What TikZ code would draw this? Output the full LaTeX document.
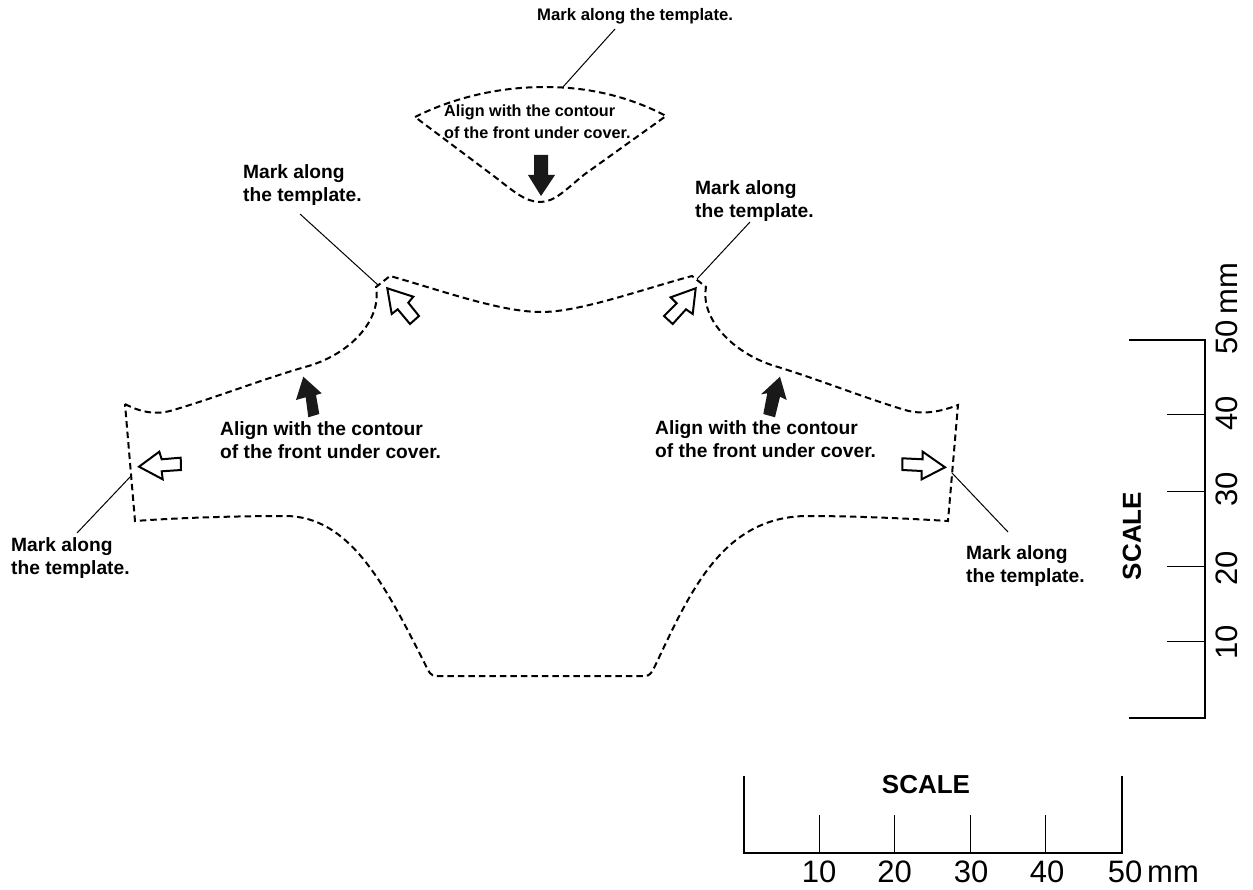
\documentclass[tikz,border=0pt]{standalone}
\usepackage{fontspec}
\setmainfont{Liberation Sans}
\begin{document}
\begin{tikzpicture}[x=1pt,y=-1pt,
  outline/.style={line width=2pt,dash pattern=on 6.5pt off 4pt,black},
  leader/.style={line width=1pt,black},
  solidarrow/.style={fill=black!90,draw=none},
  hollowarrow/.style={fill=white,draw=black,line width=2pt,line join=miter},
  notetop/.style={font=\fontsize{16.7}{23.5}\selectfont\bfseries,align=left,inner sep=0pt,anchor=north west},
  note/.style={font=\fontsize{19.2}{23.5}\selectfont\bfseries,align=left,inner sep=0pt,anchor=north west},
  notesmall/.style={font=\fontsize{16.2}{21.5}\selectfont\bfseries,align=left,inner sep=0pt,anchor=north west},
  scaletitle/.style={font=\fontsize{26}{30}\selectfont\bfseries,inner sep=0pt},
  num/.style={font=\fontsize{31}{32}\selectfont,inner sep=0pt,anchor=base},
  rule/.style={line width=2pt,black,line cap=butt},
  tick/.style={line width=1pt,black}]
\useasboundingbox (0,0) rectangle (1253,890);

% top template
\draw[outline] (415,117) .. controls (455,97) and (500,87) .. (545,87)
  .. controls (590,87) and (630,97) .. (666,116)
  -- (585,174) .. controls (565,190) and (555,202) .. (540,202)
  .. controls (525,202) and (512,190) .. (495,177) -- cycle;

% main template
\draw[outline] (125,404) .. controls (140,412) and (155,415) .. (170,411)
  .. controls (215,398) and (260,380) .. (305,367)
  .. controls (350,355) and (382,320) .. (376,287)
  -- (390,276)
  .. controls (440,290) and (500,312) .. (541,312)
  .. controls (580,312) and (640,290) .. (692,276)
  -- (706,287)
  .. controls (700,320) and (735,355) .. (778,367)
  .. controls (820,380) and (865,398) .. (905,410)
  .. controls (925,416) and (945,410) .. (958,405)
  -- (948,521)
  .. controls (900,518) and (850,516) .. (805,516)
  .. controls (722,518) and (690,592) .. (655,666)
  .. controls (652,672) and (650,676) .. (645,676)
  -- (437,676)
  .. controls (430,676) and (429,672) .. (425,664)
  .. controls (385,585) and (350,516) .. (285,516)
  .. controls (250,516) and (190,517) .. (135,521)
  -- cycle;

% solid arrows
\fill[solidarrow] (541,196) -- (528,175) -- (534,175) -- (534,155) -- (548,155) -- (548,175) -- (555,175) -- cycle;
\fill[solidarrow] (303.3,376.7) -- (296,400) -- (305.7,397.3) -- (308.3,417.3) -- (319.3,414) -- (316,395) -- (321.7,393.3) -- cycle;
\fill[solidarrow] (780,376.7) -- (761,394.3) -- (767.3,393.3) -- (763.3,414) -- (775,417.3) -- (780,396.7) -- (786.7,400) -- cycle;

% hollow arrows
\draw[hollowarrow] (387.3,288.3) -- (413.3,296.7) -- (408.3,302.7) -- (419,316) -- (410,324) -- (397.7,309.3) -- (391.7,314) -- cycle;
\draw[hollowarrow] (695.7,288.3) -- (670.7,297.3) -- (676.7,303.3) -- (664,316) -- (672.7,324) -- (686,309.3) -- (692.7,314) -- cycle;
\draw[hollowarrow] (139,466.7) -- (159.3,451.7) -- (161.7,459.3) -- (180.7,457.7) -- (181,470) -- (161.7,471.3) -- (162.7,479.3) -- cycle;
\draw[hollowarrow] (945,467.3) -- (922.7,451.7) -- (922.7,459.3) -- (902.3,458.3) -- (902.3,470) -- (921.7,471) -- (921.7,479.3) -- cycle;

% notes
\node[notetop] (nTop) at (537,8) {Mark along the template.};
\node[note] (nUL) at (243,164) {Mark along\\the template.};
\node[note] (nUR) at (695,180) {Mark along\\the template.};
\node[note] (nLL) at (11,537) {Mark along\\the template.};
\node[note] (nLR) at (966,545) {Mark along\\the template.};
\node[note] (aL) at (220,421) {Align with the contour\\of the front under cover.};
\node[note] (aR) at (655,420) {Align with the contour\\of the front under cover.};
\node[notesmall] (aT) at (444,105) {Align with the contour\\of the front under cover.};

% leaders
\coordinate (lTa) at (615,29); \coordinate (lTb) at (563,87);
\coordinate (lULa) at (300,214); \coordinate (lULb) at (378,285);
\coordinate (lURa) at (750,222); \coordinate (lURb) at (697,279);
\coordinate (lLLa) at (77,533); \coordinate (lLLb) at (131,476);
\coordinate (lLRa) at (1008,532); \coordinate (lLRb) at (952,473);
\draw[leader] (lTa) -- (lTb);
\draw[leader] (lULa) -- (lULb);
\draw[leader] (lURa) -- (lURb);
\draw[leader] (lLLa) -- (lLLb);
\draw[leader] (lLRa) -- (lLRb);

% vertical scale
\coordinate (vT0) at (1129,340); \coordinate (vT1) at (1205,340);
\coordinate (vB0) at (1129,718); \coordinate (vB1) at (1205,718);
\draw[rule,line join=miter] (vT0) -- (vT1) -- (vB1) -- (vB0);
\foreach \yy in {415,491,566,641}{\draw[tick] (1167,\yy) -- (1205,\yy);}
\node[scaletitle,rotate=90] (sV) at (1132,536) {SCALE};
\node[num,rotate=90] (v10) at (1237,642) {10};
\node[num,rotate=90] (v20) at (1237,568) {20};
\node[num,rotate=90] (v30) at (1237,489) {30};
\node[num,rotate=90] (v40) at (1237,413) {40};
\node[num,rotate=90] (v50) at (1237,337) {50};
\node[num,rotate=90] (vmm) at (1237,289) {mm};

% horizontal scale
\coordinate (hL0) at (744,776); \coordinate (hL1) at (744,852.5);
\coordinate (hR0) at (1122,776); \coordinate (hR1) at (1122,852.5);
\draw[rule,line join=miter] (hL0) -- (hL1) -- (hR1) -- (hR0);
\foreach \xx in {819.5,894.5,970,1045.5}{\draw[tick] (\xx,815) -- (\xx,852.5);}
\node[scaletitle] (sH) at (926,785) {SCALE};
\node[num] (h10) at (819,882) {10};
\node[num] (h20) at (894.5,882) {20};
\node[num] (h30) at (971,882) {30};
\node[num] (h40) at (1047,882) {40};
\node[num] (h50) at (1125,882) {50};
\node[num,anchor=base west] (hmm) at (1147,882) {mm};
\end{tikzpicture}
\end{document}
